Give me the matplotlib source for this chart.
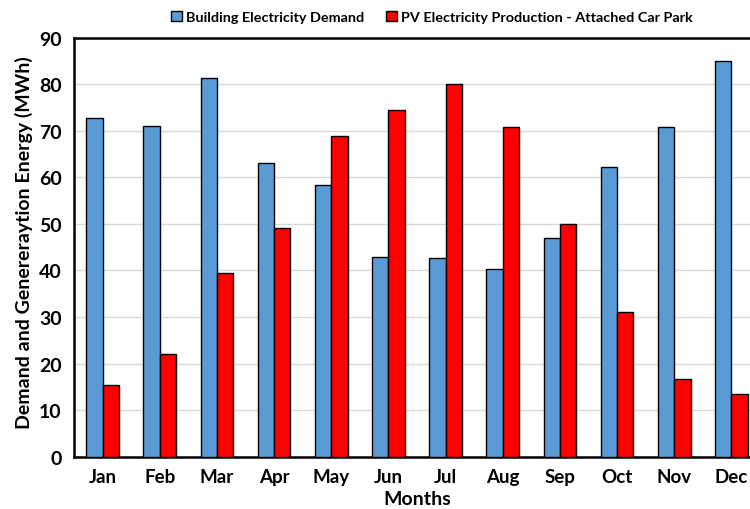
import matplotlib
matplotlib.use("Agg")
import matplotlib.pyplot as plt
import numpy as np

months = ["Jan", "Feb", "Mar", "Apr", "May", "Jun", "Jul", "Aug", "Sep", "Oct", "Nov", "Dec"]
demand = [72.7, 71.1, 81.3, 63.1, 58.3, 42.9, 42.6, 40.2, 47.0, 62.2, 70.8, 84.9]
pv = [15.5, 22.0, 39.5, 49.0, 68.8, 74.4, 80.1, 70.7, 49.9, 31.1, 16.7, 13.5]
series_names = ["Building Electricity Demand", "PV Electricity Production - Attached Car Park"]
yticks = [0, 10, 20, 30, 40, 50, 60, 70, 80, 90]

plt.rcParams['font.family'] = ['Lato', 'DejaVu Sans']
plt.rcParams['font.weight'] = 'bold'

fig = plt.figure(figsize=(7.5, 5.1), dpi=100)
ax = fig.add_axes([74/750, 1 - 457.7/510, 686/750, (457.7 - 38.5)/510])

x = np.arange(len(months))
w = 0.287
ax.bar(x - w/2, demand, w, color="#5B9BD5", edgecolor="black", linewidth=1.0,
       label=series_names[0], zorder=3)
ax.bar(x + w/2, pv, w, color="#FF0000", edgecolor="black", linewidth=1.0,
       label=series_names[1], zorder=3)

ax.set_xlim(-0.5, len(months) - 0.5)
ax.set_ylim(0, 90)
ax.set_yticks(yticks)
ax.set_xticks(x)
ax.set_xticklabels(months, fontsize=13.5, fontweight='bold')
ax.set_yticklabels([str(t) for t in yticks], fontsize=14, fontweight='bold')
ax.tick_params(axis='y', length=0, pad=9)
ax.tick_params(axis='x', length=0, pad=8)
ax.yaxis.grid(True, color="#D9D9D9", linewidth=1.0, zorder=0)
ax.set_axisbelow(True)
for s in ['left', 'bottom', 'top', 'right']:
    ax.spines[s].set_linewidth(1.8)
    ax.spines[s].set_color('black')

ax.set_xlabel("Months", fontsize=14, fontweight='bold', labelpad=4)
ax.set_ylabel("Demand and Genereraytion Energy (MWh)", fontsize=14, fontweight='bold')
ax.yaxis.set_label_coords(-0.06, 0.513)

leg = fig.legend(loc='center', bbox_to_anchor=(432/750, 1 - 18/510), ncol=2, frameon=False,
                 handlelength=0.75, handleheight=0.75, handletextpad=0.3,
                 columnspacing=1.5, prop={'weight': 'bold', 'size': 10.4})
for h in leg.legend_handles:
    h.set_linewidth(1.0)

fig.savefig("out.png", dpi=100)
